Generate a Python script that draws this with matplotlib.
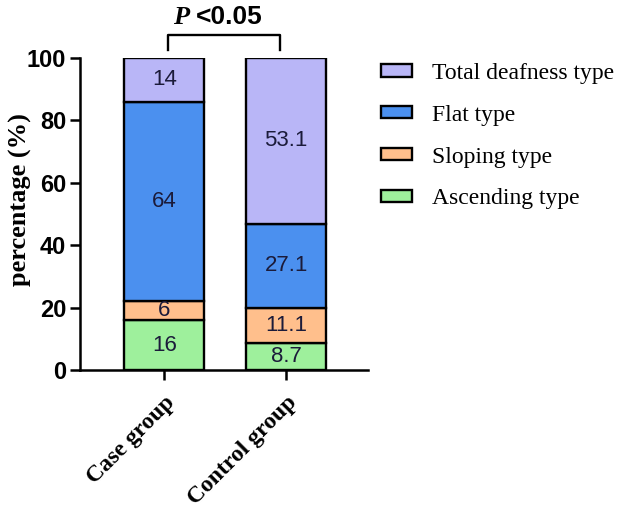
import matplotlib.pyplot as plt
from matplotlib.patches import Patch

# data
groups = ['Case group', 'Control group']
types = ['Ascending type', 'Sloping type', 'Flat type', 'Total deafness type']
values = {
    'Ascending type': [16, 8.7],
    'Sloping type': [6, 11.1],
    'Flat type': [64, 27.1],
    'Total deafness type': [14, 53.1],
}
labels = {
    'Ascending type': ['16', '8.7'],
    'Sloping type': ['6', '11.1'],
    'Flat type': ['64', '27.1'],
    'Total deafness type': ['14', '53.1'],
}
colors = {
    'Ascending type': '#9ef09c',
    'Sloping type': '#ffbf8c',
    'Flat type': '#4b90ef',
    'Total deafness type': '#b9b6f7',
}
y_ticks = [0, 20, 40, 60, 80, 100]

fig = plt.figure(figsize=(6.24, 5.11), dpi=100)
ax = fig.add_axes([80/624, 141/511, 288/624, 312/511])

x = list(range(len(groups)))
bottom = [0, 0]
for t in types:
    v = values[t]
    ax.bar(x, v, width=0.656, bottom=bottom, color=colors[t],
           edgecolor='black', linewidth=1.7, zorder=2)
    for i in x:
        ax.text(i, bottom[i] + v[i] / 2, labels[t][i], ha='center', va='center',
                fontsize=16, color='#1b1b3a', family='Liberation Sans', zorder=3)
    bottom = [bottom[i] + v[i] for i in x]

ax.set_xlim(-0.69, 1.67)
ax.set_ylim(0, 100)
ax.set_yticks(y_ticks)
ax.set_xticks(x)
ax.set_xticklabels(groups, rotation=45, ha='right', rotation_mode='anchor',
                   family='Liberation Serif', fontweight='bold', fontsize=17)
for lab in ax.get_yticklabels():
    lab.set_family('Liberation Sans')
    lab.set_fontweight('bold')
    lab.set_fontsize(17)
ax.tick_params(axis='both', width=1.8, length=7, direction='out')
ax.tick_params(axis='x', pad=9)
ax.tick_params(axis='y', pad=3)
ax.spines['top'].set_visible(False)
ax.spines['right'].set_visible(False)
ax.spines['left'].set_linewidth(1.8)
ax.spines['bottom'].set_linewidth(1.8)
ax.set_ylabel('percentage (%)', family='Liberation Serif', fontweight='bold',
              fontsize=19, va='center')
ax.yaxis.set_label_coords(-0.208, 0.545)

# significance bracket
ax.plot([0.03, 0.03, 0.95, 0.95], [102.6, 107.4, 107.4, 102.6], color='black',
        lw=1.7, clip_on=False)
ax.text(0.205, 113, 'P', ha='right', va='center', fontsize=19,
        family='Liberation Serif', fontstyle='italic', fontweight='bold')
ax.text(0.26, 113, '<0.05', ha='left', va='center', fontsize=19,
        family='Liberation Sans', fontweight='bold')

handles = [Patch(facecolor=colors[t], edgecolor='black', linewidth=1.7)
           for t in types[::-1]]
fig.legend(handles, types[::-1], loc='upper left', bbox_to_anchor=(381/624, 1 - 63/511),
           frameon=False, prop={'family': 'Liberation Serif', 'size': 17},
           borderpad=0, borderaxespad=0,
           handlelength=1.3, handleheight=0.42, labelspacing=0.88, handletextpad=0.85)

plt.savefig('out.png', dpi=100)
